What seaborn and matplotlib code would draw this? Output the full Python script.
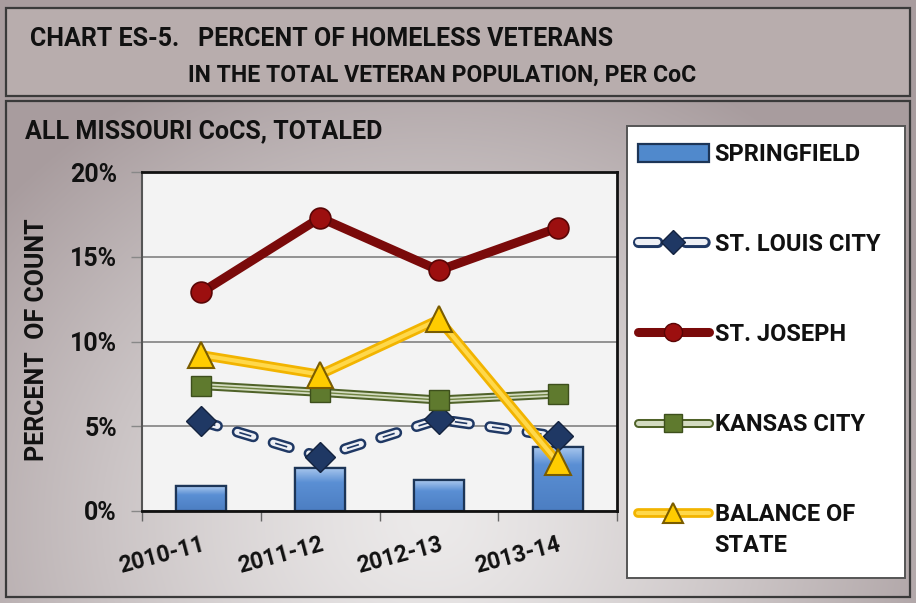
import numpy as np
import pandas as pd
import matplotlib
matplotlib.use("Agg")
import matplotlib.pyplot as plt
import seaborn as sns
from matplotlib.patches import Rectangle
from matplotlib.lines import Line2D
from matplotlib.legend_handler import HandlerTuple

# ---- data -------------------------------------------------------------
seasons = ["2010-11", "2011-12", "2012-13", "2013-14"]
springfield = [1.45, 2.55, 1.8, 3.8]
st_louis_city = [5.3, 3.2, 5.4, 4.4]
st_joseph = [12.9, 17.3, 14.2, 16.7]
kansas_city = [7.4, 7.0, 6.55, 6.9]
balance_of_state = [9.2, 8.05, 11.3, 2.9]
y_ticks = [0, 5, 10, 15, 20]
series_labels = ["SPRINGFIELD", "ST. LOUIS CITY", "ST. JOSEPH",
                 "KANSAS CITY", "BALANCE OF"]

# ---- style ------------------------------------------------------------
sns.set_theme(style="white")
plt.rcParams["font.family"] = ["Roboto", "DejaVu Sans"]
plt.rcParams["font.weight"] = "bold"
plt.rcParams["lines.scale_dashes"] = False
TXT = "#111111"
BOLD = dict(color=TXT, fontweight="bold")

W, H = 916, 603
fig = plt.figure(figsize=(W / 100, H / 100), dpi=100)


def fx(px):
    return px / W


def fy(py):
    return 1 - py / H


# ---- background panels (pixel coordinates) -----------------------------
bg = fig.add_axes([0, 0, 1, 1], zorder=-10)
bg.set_xlim(0, W)
bg.set_ylim(H, 0)
bg.set_axis_off()

yy, xx = np.mgrid[0:H, 0:W]
r = np.sqrt(((xx - 430) / 560.0) ** 2 + ((yy - 520) / 500.0) ** 2)
t = np.clip(r, 0, 1) ** 1.3
light = np.array([236, 234, 234]) / 255
dark = np.array([168, 156, 158]) / 255
grad = light[None, None, :] * (1 - t[..., None]) + dark[None, None, :] * t[..., None]
bg.imshow(grad, extent=[0, W, H, 0], aspect="auto", zorder=0)

# title box
bg.add_patch(Rectangle((6, 8), 904, 88, facecolor="#b8adad",
                       edgecolor="#3a3a3a", lw=1.6, zorder=2))
# main panel border
bg.add_patch(Rectangle((6, 101), 904, 496, facecolor="none",
                       edgecolor="#3a3a3a", lw=1.6, zorder=2))
# legend box
bg.add_patch(Rectangle((627, 126), 278, 452, facecolor="white",
                       edgecolor="#555555", lw=1.4, zorder=2))

fig.text(fx(30), fy(39), "CHART ES-5.   PERCENT OF HOMELESS VETERANS",
         fontsize=18, ha="left", va="center", **BOLD)
fig.text(fx(188), fy(75), "IN THE TOTAL VETERAN POPULATION, PER CoC",
         fontsize=16.6, ha="left", va="center", **BOLD)
fig.text(fx(25), fy(131), "ALL MISSOURI CoCS, TOTALED",
         fontsize=18, ha="left", va="center", **BOLD)
fig.text(fx(37), fy(340), "PERCENT  OF COUNT", rotation=90,
         fontsize=18, ha="center", va="center", **BOLD)

# ---- plot area ----------------------------------------------------------
ax = fig.add_axes([fx(142), fy(511), (617 - 142) / W, (511 - 172) / H])
ax.set_facecolor("#f3f3f3")
ax.set_axisbelow(True)
ax.grid(axis="y", color="#8a8a8a", lw=1.3)
ax.grid(axis="x", visible=False)

xpos = np.arange(len(seasons))
bars = pd.DataFrame({"season": seasons, "pct": springfield})
sns.barplot(data=bars, x="season", y="pct", color="#4f84c4",
            edgecolor="#1c3557", linewidth=1.6, width=0.42,
            saturation=1, ax=ax, zorder=2)

# soft bevel shading inside each bar, clipped to the bar outline
shade = np.linspace(0, 1, 64)[:, None]
top_c = np.array([170, 200, 238]) / 255
mid_c = np.array([90, 143, 212]) / 255
low_c = np.array([76, 126, 194]) / 255
for p in list(ax.patches):
    x0, y0 = p.get_x(), p.get_y()
    w, h = p.get_width(), p.get_height()
    frac = min(0.35, 0.09 / max(h / 20.0, 1e-6) * 0.6)
    s = shade[::-1]  # 1 at top
    col = np.where(s > 1 - frac,
                   mid_c + (top_c - mid_c) * ((s - (1 - frac)) / frac),
                   low_c + (mid_c - low_c) * (s / (1 - frac)))
    img = np.repeat(col[:, None, :], 8, axis=1)
    im = ax.imshow(img, extent=[x0, x0 + w, y0, y0 + h], origin="upper",
                   aspect="auto", zorder=2.05, interpolation="bilinear")
    im.set_clip_path(p)
    edge = Rectangle((x0, y0), w, h, facecolor="none", edgecolor="#1c3557",
                     lw=1.6, zorder=2.1)
    ax.add_patch(edge)

# St. Louis City: dashed compound line
SL_DASH = (0, (12, 15))
sns.lineplot(x=xpos, y=st_louis_city, color="#1f3864", lw=8,
             ax=ax, zorder=3)
lst = ax.lines[-1]
lst.set_linestyle(SL_DASH)
lst.set_dash_capstyle("round")
ax.plot(xpos, st_louis_city, color="#eef0f5", lw=4.4, ls=SL_DASH,
        dash_capstyle="round", zorder=3.1)
ax.plot(xpos, st_louis_city, color="#1f3864", lw=1.2, ls=(-1.5, (9, 18)),
        zorder=3.2)
ax.plot(xpos, st_louis_city, ls="none", marker="D", ms=15,
        mfc="#1f3864", mec="#14233f", mew=1, zorder=3.3)

# St. Joseph
sns.lineplot(x=xpos, y=st_joseph, color="#7a0a0a", lw=6.5, ax=ax,
             zorder=4, solid_capstyle="round")
ax.plot(xpos, st_joseph, ls="none", marker="o", ms=15,
        mfc="#9c0f0f", mec="#5a0505", mew=1.2, zorder=4.1)

# Kansas City: double line
sns.lineplot(x=xpos, y=kansas_city, color="#4f6228", lw=6.5, ax=ax,
             zorder=5, solid_capstyle="round")
ax.plot(xpos, kansas_city, color="#d3dbc0", lw=3.6,
        solid_capstyle="round", zorder=5.1)
ax.plot(xpos, kansas_city, color="#6e8240", lw=1.0, zorder=5.2)
ax.plot(xpos, kansas_city, ls="none", marker="s", ms=15,
        mfc="#5f7a2e", mec="#3d4f1c", mew=1, zorder=5.3)

# Balance of State
sns.lineplot(x=xpos, y=balance_of_state, color="#f2b400", lw=7, ax=ax,
             zorder=6, solid_capstyle="round")
ax.plot(xpos, balance_of_state, color="#ffd84a", lw=3,
        solid_capstyle="round", zorder=6.1)
ax.plot(xpos, balance_of_state, ls="none", marker="^", ms=19,
        mfc="#ffcc00", mec="#7a5c00", mew=1.5, zorder=6.2)

ax.set_xlim(-0.5, len(seasons) - 0.5)
ax.set_ylim(0, 20)
ax.set_yticks(y_ticks)
ax.set_yticklabels([f"{v}%" for v in y_ticks], fontweight="bold")
ax.set_xticks(xpos)
ax.set_xticklabels(seasons, rotation=15, ha="right", rotation_mode="anchor",
                   fontweight="bold")
ax.set_xticks(np.arange(-0.5, len(seasons)), minor=True)
ax.tick_params(axis="x", which="major", length=0, pad=16, labelsize=16.5,
               labelcolor=TXT)
ax.tick_params(axis="x", which="minor", length=7, width=1, color="#666666",
               direction="out", bottom=True)
ax.tick_params(axis="y", length=8, width=1, color="#888888", left=True,
               direction="out", labelsize=18, labelcolor=TXT, pad=10)
ax.set_xlabel("")
ax.set_ylabel("")
for side in ["top", "right", "bottom"]:
    ax.spines[side].set_color("#111111")
    ax.spines[side].set_linewidth(2)
ax.spines["left"].set_color("#555555")
ax.spines["left"].set_linewidth(1.5)
if ax.get_legend() is not None:
    ax.get_legend().remove()

# ---- legend -----------------------------------------------------------
LEG_DASH = (0, (14, 20))
h_bar = Rectangle((0, 0), 1, 1, facecolor="#5089cc", edgecolor="#1c3557", lw=1.6)
h_sl = (Line2D([], [], color="#1f3864", lw=8, ls=LEG_DASH,
               dash_capstyle="round"),
        Line2D([], [], color="#eef0f5", lw=4.4, ls=LEG_DASH,
               dash_capstyle="round"),
        Line2D([], [], ls="none", marker="D", ms=12, mfc="#1f3864",
               mec="#14233f"))
h_sj = (Line2D([], [], color="#7a0a0a", lw=6.5, solid_capstyle="round"),
        Line2D([], [], ls="none", marker="o", ms=13, mfc="#9c0f0f",
               mec="#5a0505"))
h_kc = (Line2D([], [], color="#4f6228", lw=6.5, solid_capstyle="round"),
        Line2D([], [], color="#d3dbc0", lw=3.6, solid_capstyle="round"),
        Line2D([], [], ls="none", marker="s", ms=13, mfc="#5f7a2e",
               mec="#3d4f1c"))
h_bs = (Line2D([], [], color="#f2b400", lw=7, solid_capstyle="round"),
        Line2D([], [], color="#ffd84a", lw=3, solid_capstyle="round"),
        Line2D([], [], ls="none", marker="^", ms=14, mfc="#ffcc00",
               mec="#7a5c00", mew=1.5))

leg = fig.legend([h_bar, h_sl, h_sj, h_kc, h_bs], series_labels,
                 handler_map={tuple: HandlerTuple(ndivide=1, pad=0)},
                 loc="upper left", bbox_to_anchor=(fx(638), fy(143)),
                 frameon=False, handlelength=3.0,
                 handleheight=0.8, handletextpad=0.25, labelspacing=2.84,
                 borderpad=0, borderaxespad=0, numpoints=1,
                 prop={"weight": "bold", "size": 17})
for txt in leg.get_texts():
    txt.set_color(TXT)

# second line of the last legend label, set just under its first line
fig.canvas.draw()
bb = leg.get_texts()[-1].get_window_extent()
fig.text(bb.x0 / fig.dpi / fig.get_figwidth(),
         (bb.y0 - 31) / fig.dpi / fig.get_figheight(), "STATE",
         fontsize=17, ha="left", va="bottom", **BOLD)

fig.savefig("out.png", dpi=100)
